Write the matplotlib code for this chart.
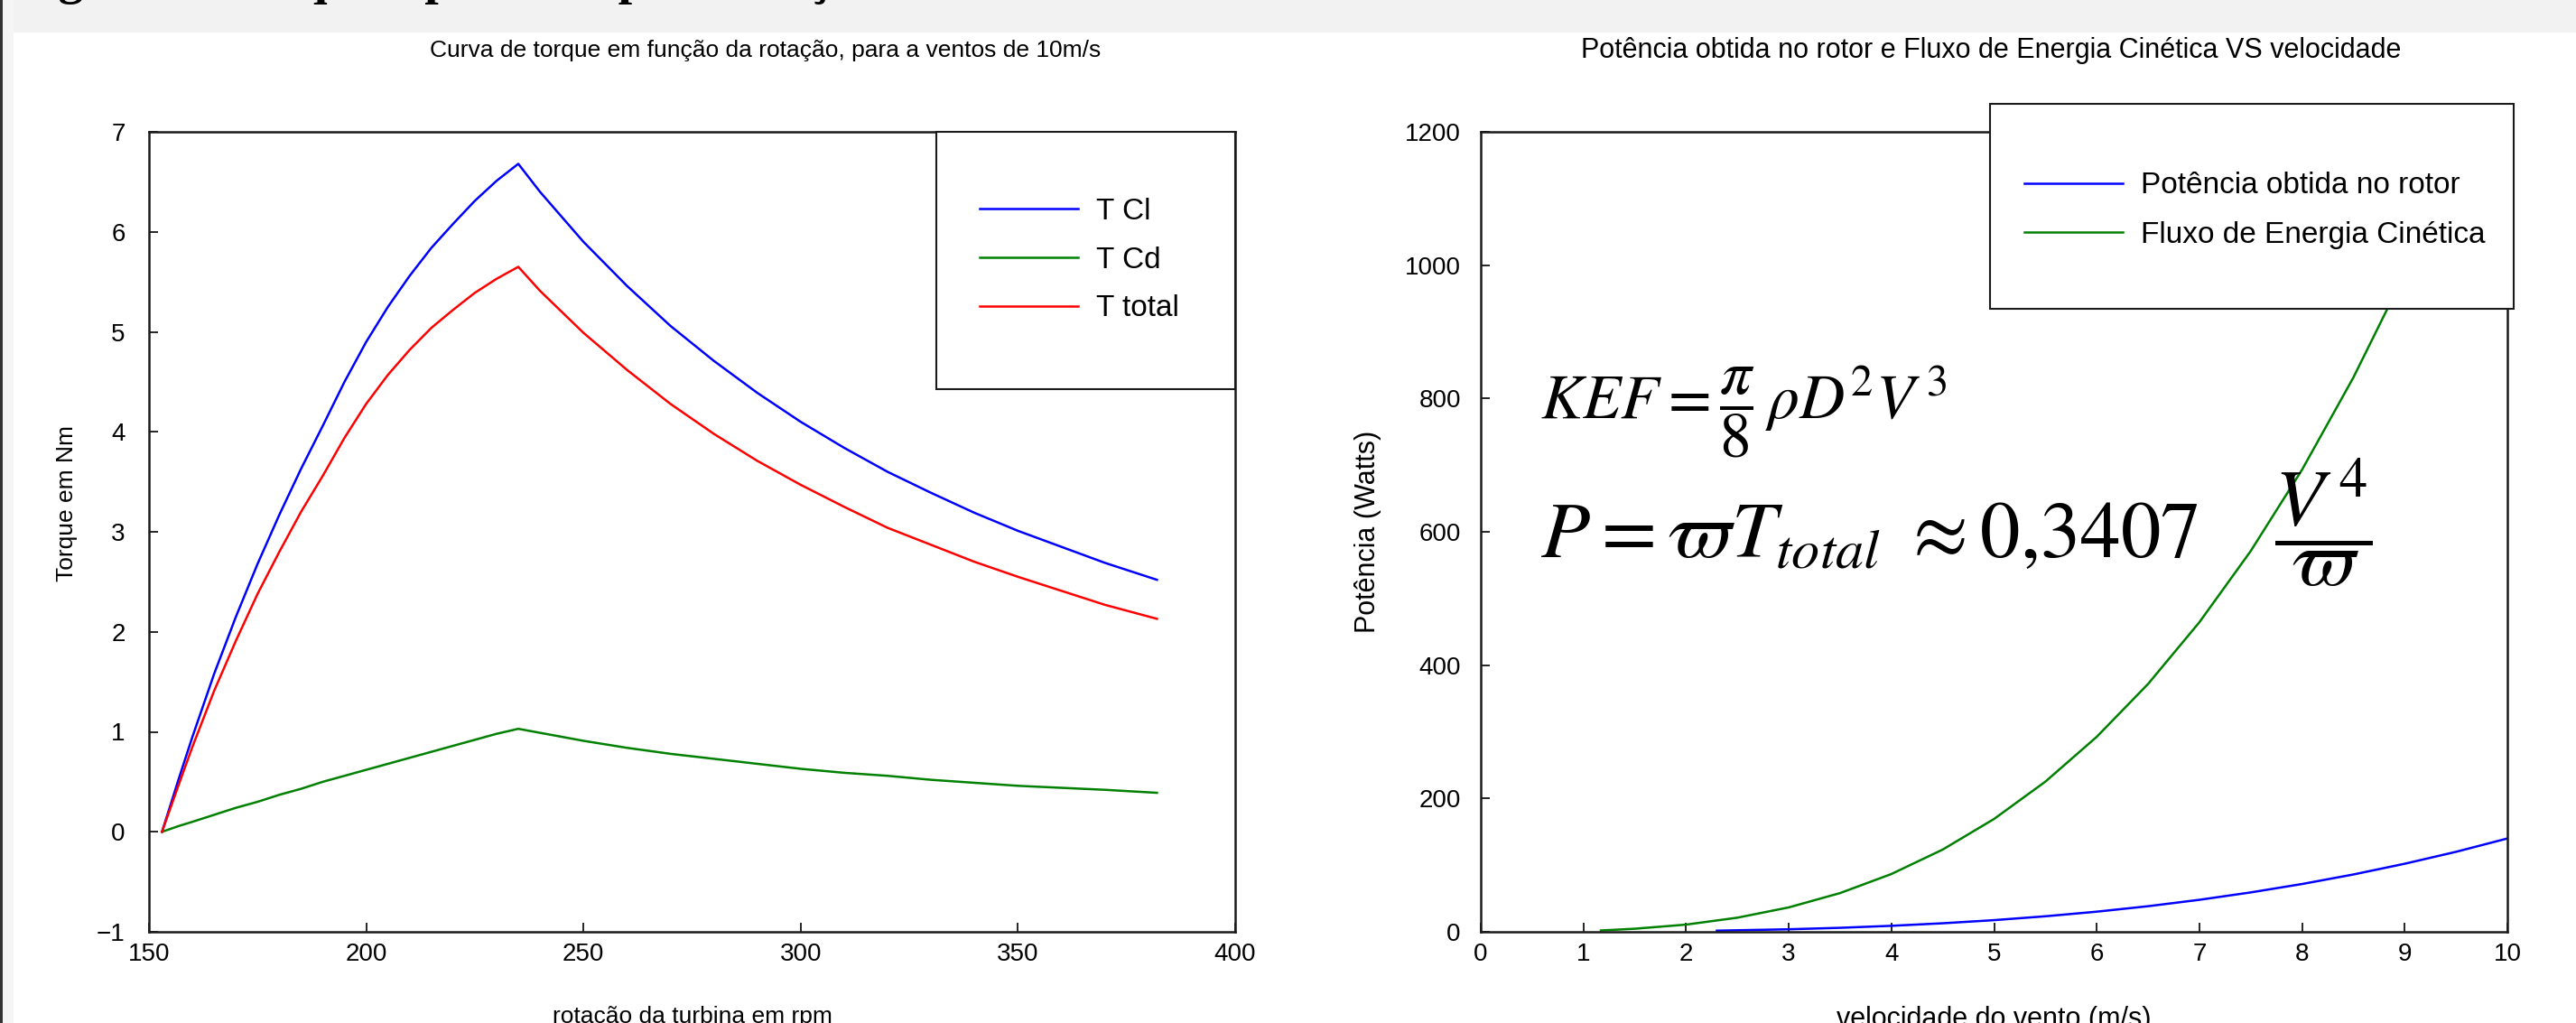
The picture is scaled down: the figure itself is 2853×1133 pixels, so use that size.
import matplotlib
matplotlib.use("Agg")
import matplotlib.pyplot as plt
from matplotlib.patches import Rectangle

plt.rcParams['font.family'] = ['Liberation Sans', 'DejaVu Sans']
plt.rcParams['mathtext.fontset'] = 'stix'

# curva de torque x rotação (ventos de 10 m/s)
rpm = [153, 157, 160, 165, 170, 175, 180, 185, 190, 195, 200, 205, 210, 215, 220, 225, 230, 235,
       240, 250, 260, 270, 280, 290, 300, 310, 320, 330, 340, 350, 360, 370, 382]
t_cl = [0, 0.55, 0.95, 1.58, 2.15, 2.68, 3.17, 3.63, 4.06, 4.50, 4.90, 5.25, 5.56, 5.84, 6.08, 6.31, 6.51, 6.68,
        6.40, 5.90, 5.46, 5.06, 4.71, 4.39, 4.10, 3.84, 3.60, 3.39, 3.19, 3.01, 2.85, 2.69, 2.52]
t_cd = [0, 0.06, 0.10, 0.17, 0.24, 0.30, 0.37, 0.43, 0.50, 0.56, 0.62, 0.68, 0.74, 0.80, 0.86, 0.92, 0.98, 1.03,
        0.99, 0.91, 0.84, 0.78, 0.73, 0.68, 0.63, 0.59, 0.56, 0.52, 0.49, 0.46, 0.44, 0.42, 0.39]
t_total = [0, 0.49, 0.85, 1.41, 1.91, 2.38, 2.80, 3.20, 3.56, 3.94, 4.28, 4.57, 4.82, 5.04, 5.22, 5.39, 5.53, 5.65,
           5.41, 4.99, 4.62, 4.28, 3.98, 3.71, 3.47, 3.25, 3.04, 2.87, 2.70, 2.55, 2.41, 2.27, 2.13]
nomes_torque = ["T Cl", "T Cd", "T total"]

# potência x velocidade do vento
vel_rotor = [2.3, 3, 3.5, 4, 4.5, 5, 5.5, 6, 6.5, 7, 7.5, 8, 8.5, 9, 9.5, 10]
pot_rotor = [1.7, 3.8, 6.0, 9.0, 12.8, 17.5, 23.3, 30.2, 38.4, 48.0, 59.1, 71.7, 86.0, 102.1, 120.0, 140.0]
vel_kef = [1.17, 1.5, 2, 2.5, 3, 3.5, 4, 4.5, 5, 5.5, 6, 6.5, 7, 7.5, 8, 8.5, 9, 9.5, 10]
kef = [2.0, 4.6, 10.8, 21.2, 36.6, 58.1, 86.7, 123.4, 169.3, 225.3, 292.5, 371.8, 464.4, 571.2,
       693.2, 831.5, 987.1, 1160.9, 1354.0]
nomes_pot = ["Potência obtida no rotor", "Fluxo de Energia Cinética"]

W, H = 2853, 1133
fig = plt.figure(figsize=(W / 100, H / 100), dpi=100)

# faixa cinza do topo e borda esquerda (print da página)
fig.patches.append(Rectangle((0, 1 - 36 / H), 1, 36 / H, transform=fig.transFigure,
                             facecolor="#f2f2f2", edgecolor="none", zorder=0))
fig.patches.append(Rectangle((0, 0), 15 / W, 1, transform=fig.transFigure,
                             facecolor="#f5f5f5", edgecolor="none", zorder=0))
fig.patches.append(Rectangle((0, 0), 3 / W, 1, transform=fig.transFigure,
                             facecolor="#333333", edgecolor="none", zorder=1))
# legenda da figura, cortada no topo como no print
fig.text(15 / W, 1 + 7 / H, "Figura 5: Torque e potência pela rotação e velocidade do vento",
         family="Liberation Serif", fontweight="bold", fontsize=40, va="baseline", ha="left")

ax1 = fig.add_axes([165 / W, (H - 1032) / H, 1203 / W, 886 / H])
ax2 = fig.add_axes([1640 / W, (H - 1032) / H, 1137 / W, 886 / H])


def estilo(ax, tam, ypad):
    for s in ax.spines.values():
        s.set_linewidth(1.8)
        s.set_color("#1a1a1a")
    ax.tick_params(direction="in", length=7, width=1.2, labelsize=tam, top=False, right=False)
    ax.tick_params(axis="y", pad=ypad)
    ax.tick_params(axis="x", pad=9)


# --- torque ---
l1, = ax1.plot(rpm, t_cl, color="#0000ff", lw=1.8)
l2, = ax1.plot(rpm, t_cd, color="#008000", lw=1.8)
l3, = ax1.plot(rpm, t_total, color="#ff0000", lw=1.8)
ax1.set_xlim(150, 400)
ax1.set_ylim(-1, 7)
ax1.set_xticks([150, 200, 250, 300, 350, 400])
ax1.set_yticks(range(-1, 8))
estilo(ax1, 20, 19)
ax1.set_xlabel("rotação da turbina em rpm", fontsize=19)
ax1.xaxis.set_label_coords(0.5, -0.0926)
ax1.set_ylabel("Torque em Nm", fontsize=19)
ax1.yaxis.set_label_coords(-0.066, 0.535)
fig.text(848 / W, 1 - 56 / H, "Curva de torque em função da rotação, para a ventos de 10m/s",
         fontsize=19, ha="center", va="center")

ax1.add_patch(Rectangle((0.725, 0.678), 0.275, 0.322, transform=ax1.transAxes, facecolor="white",
                        edgecolor="#1a1a1a", lw=1.5, clip_on=False, zorder=4))
ax1.legend([l1, l2, l3], nomes_torque, loc="upper left", bbox_to_anchor=(0.765, 0.9175),
           frameon=False, fontsize=24, borderpad=0, borderaxespad=0, handlelength=3.27,
           handletextpad=0.6, labelspacing=0.68)

# --- potência ---
m1, = ax2.plot(vel_rotor, pot_rotor, color="#0000ff", lw=1.8)
m2, = ax2.plot(vel_kef, kef, color="#008000", lw=1.8)
ax2.set_xlim(0, 10)
ax2.set_ylim(0, 1200)
ax2.set_xticks(range(0, 11))
ax2.set_yticks(range(0, 1201, 200))
estilo(ax2, 20, 16)
ax2.set_xlabel("velocidade do vento (m/s)", fontsize=22)
ax2.xaxis.set_label_coords(0.5, -0.0926)
ax2.set_ylabel("Potência (Watts)", fontsize=22)
ax2.yaxis.set_label_coords(-0.097, 0.5)
fig.text(2205 / W, 1 - 56 / H, "Potência obtida no rotor e Fluxo de Energia Cinética VS velocidade",
         fontsize=22, ha="center", va="center")

ax2.add_patch(Rectangle((0.496, 0.779), 0.510, 0.256, transform=ax2.transAxes, facecolor="white",
                        edgecolor="#1a1a1a", lw=1.5, clip_on=False, zorder=4))
ax2.legend([m1, m2], nomes_pot, loc="upper left", bbox_to_anchor=(0.5295, 0.950),
           frameon=False, fontsize=24, borderpad=0, borderaxespad=0, handlelength=3.27,
           handletextpad=0.6, labelspacing=0.70)

# fórmulas
fig.text(1706 / W, 1 - 463 / H, r"$KEF=\dfrac{\pi}{8}\,\rho D^{2}V^{\,3}$",
         fontsize=50, va="baseline", ha="left")
fig.text(1706 / W, 1 - 618 / H, r"$P=\varpi T_{total}\ \approx 0{,}3407\quad\;\dfrac{V^{\,4}}{\varpi}$",
         fontsize=64, va="baseline", ha="left")

fig.savefig("out.png", dpi=100)
